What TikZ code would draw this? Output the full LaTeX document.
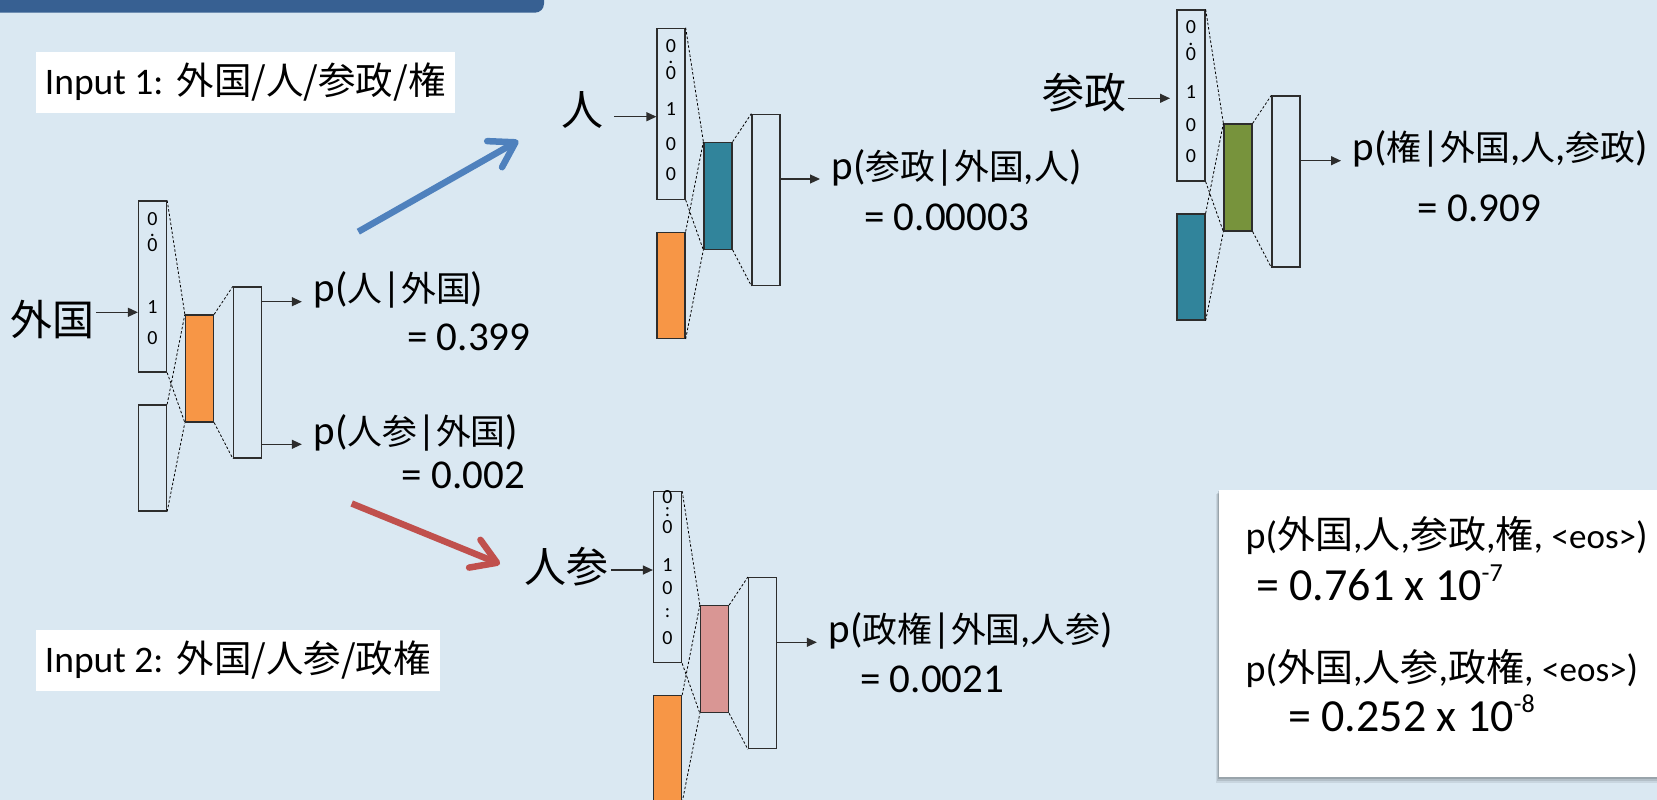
\documentclass[tikz,border=0pt]{standalone}
\usepackage{fontspec}
\setmainfont{Carlito}
\newfontfamily\cjkA{Noto Sans CJK JP}[Scale=0.85]
\newfontfamily\cjkB{Noto Sans CJK JP}
\newcommand\cjA[1]{{\cjkA #1}}
\newcommand\cjB[1]{{\cjkB #1}}
\usetikzlibrary{arrows.meta}
\definecolor{bg}{RGB}{218,232,242}
\definecolor{titlebar}{RGB}{55,96,146}
\definecolor{hidorange}{RGB}{247,150,70}
\definecolor{hidteal}{RGB}{49,132,155}
\definecolor{hidgreen}{RGB}{119,147,60}
\definecolor{hidpink}{RGB}{217,150,148}
\definecolor{arrblue}{RGB}{79,129,189}
\definecolor{arrred}{RGB}{192,80,77}
\definecolor{edge}{RGB}{45,45,45}
\tikzset{
  vbox/.style={draw=edge, line width=1.3pt, inner sep=0pt, minimum width=28pt},
  hbox/.style={vbox, minimum height=107pt},
  dig/.style={font=\fontsize{20}{20}\selectfont, inner sep=0pt},
  dsh/.style={draw=black, line width=0.8pt, dash pattern=on 2.5pt off 2pt},
  tarr/.style={draw=edge, line width=1.2pt, -{Triangle[length=10pt,width=9pt]}},
  lab/.style={font=\fontsize{41}{45}\selectfont, inner xsep=11.5pt, inner ysep=0pt, anchor=base west},
  val/.style={font=\fontsize{41}{45}\selectfont, inner sep=0pt, anchor=base west},
  word/.style={font=\fontsize{42}{46}\selectfont\cjkB, inner ysep=0pt, anchor=east},
  bigarr/.style={line width=6.5pt, -{Straight Barb[length=24pt,width=30pt,round]}},
  inbox/.style={fill=white, font=\fontsize{37.5}{40}\selectfont, inner xsep=9pt, inner ysep=0pt, minimum height=61pt, anchor=west},
  resline/.style={font=\fontsize{38}{42}\selectfont, inner sep=0pt, anchor=base west},
  resval/.style={font=\fontsize{46}{50}\selectfont, inner sep=0pt, anchor=base west}
}
\begin{document}
\begin{tikzpicture}[x=1pt,y=-1pt]
\useasboundingbox (0,0) rectangle (1657,800);
\clip (0,0) rectangle (1657,800);
\fill[bg] (0,0) rectangle (1657,800);
% title bar
\fill[titlebar, rounded corners=9pt] (-20,-20) rectangle (544,12.7);

% input labels
\node[inbox] (inp1) at (35.7,82.2) {Input 1:\hspace{13pt}\cjB{外国/人/参政/権}};
\node[inbox] (inp2) at (35.7,660) {Input 2:\hspace{13pt}\cjB{外国/人参/政権}};

% ---------- block 1 ----------
\begin{scope}[shift={(138.5,201)}]
\node[vbox, minimum height=171pt] (in1) at (14,85.5) {};
\node[vbox, minimum height=106pt] (ctx1) at (14,257) {};
\node[hbox, fill=hidorange] (hid1) at (61,167.5) {};
\node[vbox, minimum height=171pt] (out1) at (109,171.5) {};
\node[dig] (d1a) at (14,18) {0};
\node[dig] (d1b) at (14,34) {.};
\node[dig] (d1c) at (14,44) {0};
\node[dig] (d1d) at (14,106) {1};
\node[dig] (d1e) at (14,137) {0};
\coordinate (a1) at (-0.6,111.3);
\end{scope}
\draw[dsh] (in1.north east) -- (hid1.north west);
\draw[dsh] (in1.south east) -- (hid1.south west);
\draw[dsh] (ctx1.north east) -- (hid1.north west);
\draw[dsh] (ctx1.south east) -- (hid1.south west);
\draw[dsh] (hid1.north east) -- (out1.north west);
\draw[dsh] (hid1.south east) -- (out1.south west);
\node[word, inner xsep=1.5pt] (w1) at (96.4,320) {外国};
\draw[tarr] (w1.east |- a1) -- (a1);
\node[lab] (p1a) at (301.8,301.7) {p(\cjA{人}|\cjA{外国})};
\draw[tarr] (out1.east |- p1a.base west) -- (p1a.base west);
\node[val] (v1a) at (407,350.7) {= 0.399};
\node[lab] (p1b) at (301.8,444.3) {p(\cjA{人参}|\cjA{外国})};
\draw[tarr] (out1.east |- p1b.base west) -- (p1b.base west);
\node[val] (v1b) at (401.5,488.3) {= 0.002};

% ---------- block 2 ----------
\begin{scope}[shift={(657,28.3)}]
\node[vbox, minimum height=171pt] (in2) at (14,85.5) {};
\node[vbox, minimum height=106pt, fill=hidorange] (ctx2) at (14,257) {};
\node[hbox, fill=hidteal] (hid2) at (61,167.5) {};
\node[vbox, minimum height=171pt] (out2) at (109,171.5) {};
\node[dig] (d2a) at (14,17.7) {0};
\node[dig] (d2b) at (14,34) {.};
\node[dig] (d2c) at (14,45) {0};
\node[dig] (d2d) at (14,81) {1};
\node[dig] (d2e) at (14,115.7) {0};
\node[dig] (d2f) at (14,145.7) {0};
\coordinate (a2) at (-0.6,88.4);
\end{scope}
\draw[dsh] (in2.north east) -- (hid2.north west);
\draw[dsh] (in2.south east) -- (hid2.south west);
\draw[dsh] (ctx2.north east) -- (hid2.north west);
\draw[dsh] (ctx2.south east) -- (hid2.south west);
\draw[dsh] (hid2.north east) -- (out2.north west);
\draw[dsh] (hid2.south east) -- (out2.south west);
\node[word, inner xsep=10pt] (w2) at (614,110) {人};
\draw[tarr] (w2.east |- a2) -- (a2);
\node[lab] (p2) at (820,179) {p(\cjA{参政}|\cjA{外国},\cjA{人})};
\draw[tarr] (out2.east |- p2.base west) -- (p2.base west);
\node[val] (v2) at (864,230.7) {= 0.00003};

% ---------- block 3 ----------
\begin{scope}[shift={(1177,10)}]
\node[vbox, minimum height=171pt] (in3) at (14,85.5) {};
\node[vbox, minimum height=106pt, fill=hidteal] (ctx3) at (14,257) {};
\node[hbox, fill=hidgreen] (hid3) at (61,167.5) {};
\node[vbox, minimum height=171pt] (out3) at (109,171.5) {};
\node[dig] (d3a) at (14,17.3) {0};
\node[dig] (d3b) at (14,34) {.};
\node[dig] (d3c) at (14,44.3) {0};
\node[dig] (d3d) at (14,81.7) {1};
\node[dig] (d3e) at (14,115) {0};
\node[dig] (d3f) at (14,146) {0};
\coordinate (a3) at (-7,88.3);
\end{scope}
\draw[dsh] (in3.north east) -- (hid3.north west);
\draw[dsh] (in3.south east) -- (hid3.south west);
\draw[dsh] (ctx3.north east) -- (hid3.north west);
\draw[dsh] (ctx3.south east) -- (hid3.south west);
\draw[dsh] (hid3.north east) -- (out3.north west);
\draw[dsh] (hid3.south east) -- (out3.south west);
\node[word, inner xsep=1pt] (w3) at (1128,93) {参政};
\draw[tarr] (w3.east |- a3) -- (a3);
\node[lab] (p3) at (1341,160.7) {p(\cjA{権}|\cjA{外国},\cjA{人},\cjA{参政})};
\draw[tarr] (out3.east |- p3.base west) -- (p3.base west);
\node[val] (v3) at (1417.5,221.7) {= 0.909};

% ---------- block 4 ----------
\begin{scope}[shift={(653.5,491.7)}]
\node[vbox, minimum height=171pt] (in4) at (14,85.5) {};
\node[vbox, minimum height=106pt, fill=hidorange] (ctx4) at (14,257) {};
\node[hbox, fill=hidpink] (hid4) at (61,167.5) {};
\node[vbox, minimum height=171pt] (out4) at (109,171.5) {};
\node[dig] (d4a) at (14,5.3) {0};
\node[dig] (d4b) at (14,20.3) {:};
\node[dig] (d4c) at (14,35) {0};
\node[dig] (d4d) at (14,73.3) {1};
\node[dig] (d4e) at (14,96.3) {0};
\node[dig] (d4f) at (14,121.3) {:};
\node[dig] (d4g) at (14,146.3) {0};
\coordinate (a4) at (-0.6,78.3);
\end{scope}
\draw[dsh] (in4.north east) -- (hid4.north west);
\draw[dsh] (in4.south east) -- (hid4.south west);
\draw[dsh] (ctx4.north east) -- (hid4.north west);
\draw[dsh] (ctx4.south east) -- (hid4.south west);
\draw[dsh] (hid4.north east) -- (out4.north west);
\draw[dsh] (hid4.south east) -- (out4.south west);
\node[word, inner xsep=2pt] (w4) at (611,567) {人参};
\draw[tarr] (w4.east |- a4) -- (a4);
\node[lab] (p4) at (816.8,642.3) {p(\cjA{政権}|\cjA{外国},\cjA{人参})};
\draw[tarr] (out4.east |- p4.base west) -- (p4.base west);
\node[val] (v4) at (860,692.7) {= 0.0021};

% ---------- big arrows ----------
\coordinate (bA) at (358.3,231.7);
\coordinate (bB) at (518.3,140.7);
\draw[bigarr, arrblue] (bA) -- (bB);
\coordinate (rA) at (351.7,503.5);
\coordinate (rB) at (500,564);
\draw[bigarr, arrred] (rA) -- (rB);

% ---------- result box ----------
\fill[black, opacity=0.08] (1215.5,494) rectangle (1680,783);
\fill[black, opacity=0.10] (1216.5,492.5) rectangle (1680,780.5);
\fill[black, opacity=0.14] (1217.8,491) rectangle (1680,778.5);
\node[fill=white, inner sep=0pt, minimum width=460pt, minimum height=287.4pt, anchor=north west] (res) at (1219,489.3) {};
\node[resline] (r1) at (1245.5,548) {p(\cjB{外国},\cjB{人},\cjB{参政},\cjB{権}, {\fontsize{35}{35}\selectfont <eos>})};
\node[resval] (r2) at (1256,600) {= 0.761 x 10\raisebox{19pt}{\fontsize{26}{26}\selectfont -7}};
\node[resline] (r3) at (1245.5,681) {p(\cjB{外国},\cjB{人参},\cjB{政権}, {\fontsize{35}{35}\selectfont <eos>})};
\node[resval] (r4) at (1288,731.7) {= 0.252 x 10\raisebox{19pt}{\fontsize{26}{26}\selectfont -8}};
\end{tikzpicture}
\end{document}
